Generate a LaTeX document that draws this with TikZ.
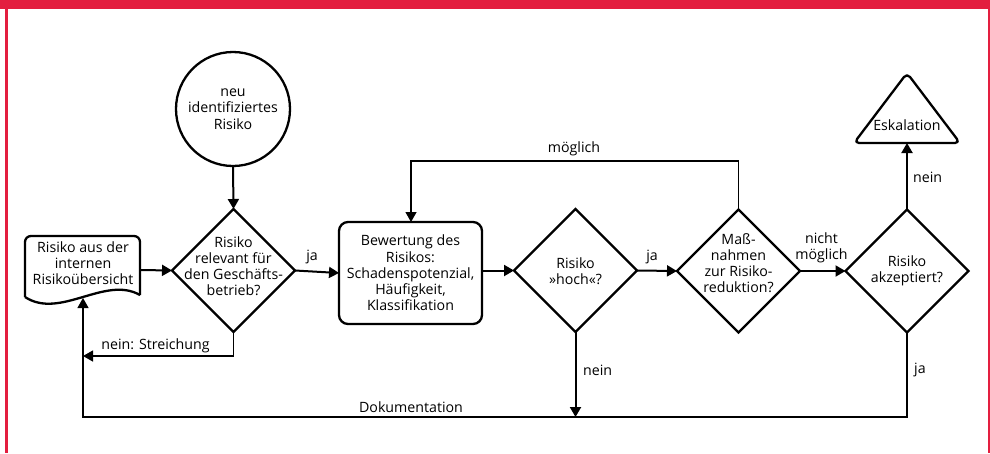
\documentclass[tikz,border=0pt]{standalone}
\usepackage{fontspec}
\setmainfont{Open Sans}
\usetikzlibrary{arrows.meta,shapes.geometric}
\definecolor{frameRed}{RGB}{227,30,63}
\tikzset{
  shapeline/.style={draw=black, line width=2.3pt},
  dia/.style={shapeline, diamond, minimum width=123pt, minimum height=123pt, inner sep=0pt, outer sep=0pt},
  txt/.style={align=center, font=\fontsize{14.2}{16.2}\selectfont, inner sep=0pt},
  lbl/.style={font=\fontsize{14.2}{16.2}\selectfont, inner sep=0pt},
  tip/.style={-{Triangle[length=10pt,width=11pt]}},
  mainarrow/.style={line width=2pt, tip},
  thinline/.style={line width=1.3pt},
}
\begin{document}
\begin{tikzpicture}[x=1pt,y=-1pt]
\useasboundingbox (0,0) rectangle (990,453);
% frame
\fill[frameRed] (0,0) rectangle (990,8.5);
\fill[frameRed] (5,0) rectangle (8.2,453);
\fill[frameRed] (987.6,0) rectangle (990,453);

% start circle
\node[shapeline, circle, minimum size=114pt, inner sep=0pt, outer sep=0pt] (start) at (233,109) {};
\node[txt] (starttxt) at (233,109) {neu\\identifiziertes\\Risiko};

% document
\draw[shapeline, rounded corners=6pt] (25,297) -- (25,236) -- (140,236) -- (140,295);
\draw[shapeline] (140,295) .. controls (105,275) and (60,320) .. (25,297);
\coordinate (docL) at (25,270);
\coordinate (docR) at (140,270);
\coordinate (docB) at (83,298);
\node[txt] (doctxt) at (83,263) {Risiko aus der\\internen\\Risikoübersicht};

% diamond 1
\node[dia] (d1) at (233.5,270.5) {};
\node[txt] (d1txt) at (233.5,266) {Risiko\\relevant für\\den Geschäfts-\\betrieb?};

% evaluation box
\node[shapeline, rectangle, rounded corners=9pt, minimum width=143pt, minimum height=102pt, inner sep=0pt, outer sep=0pt] (box) at (410.5,273) {};
\node[txt] (boxtxt) at (410.5,273) {Bewertung des\\Risikos:\\Schadenspotenzial,\\Häufigkeit,\\Klassifikation};

% diamond 2
\node[dia] (d2) at (575.5,270.5) {};
\node[txt] (d2txt) at (575.5,271) {Risiko\\»hoch«?};

% diamond 3
\node[dia] (d3) at (738.5,271) {};
\node[txt] (d3txt) at (738.5,263) {Maß-\\nahmen\\zur Risiko-\\reduktion?};

% diamond 4
\node[dia] (d4) at (907,271) {};
\node[txt] (d4txt) at (907,271) {Risiko\\akzeptiert?};

% escalation triangle
\draw[shapeline, rounded corners=5pt, line join=round] (907,73) -- (960,143) -- (854,143) -- cycle;
\coordinate (escB) at (907,143);
\node[txt] (esctxt) at (907,125) {Eskalation};

% connectors
\draw[mainarrow] (start.south) -- (d1.north);
\draw[mainarrow] (docR) -- (d1.west);
\draw[mainarrow] (d1.east) -- (box.west);
\draw[mainarrow] (box.east |- d2.west) -- (d2.west);
\draw[mainarrow] (d2.east) -- (d3.west);
\draw[mainarrow] (d3.east) -- (d4.west);
\draw[mainarrow] (d4.north) -- (escB);

% moeglich loop
\coordinate (mtop) at (738.5,161);
\draw[thinline, tip] (d3.north) -- (mtop) -- (411,161) -- (box.north -| 411,0);

% nein: Streichung
\coordinate (nsL) at (83,356);
\draw[thinline, tip] (d1.south) -- (233.5,356) -- (nsL);

% Dokumentation loop
\coordinate (dokLine) at (575.5,417);
\draw[mainarrow] (d2.south) -- (dokLine);
\draw[thinline, tip] (d4.south) -- (907,417) -- (83,417) -- (docB);

% labels
\node[lbl] (l1) at (312,257) {ja};
\node[lbl] (l2) at (652,257) {ja};
\node[lbl, align=center] (l3) at (821.5,248) {nicht\\möglich};
\node[lbl] (l4) at (574,149) {möglich};
\node[lbl, anchor=west] (l5) at (583,370) {nein};
\node[lbl] (l6) at (411,407) {Dokumentation};
\node[lbl, anchor=west] (l7) at (914,370) {ja};
\node[lbl, anchor=west] (l8) at (913,177) {nein};
\node[lbl] (l9) at (155.5,346) {nein: Streichung};
\end{tikzpicture}
\end{document}
